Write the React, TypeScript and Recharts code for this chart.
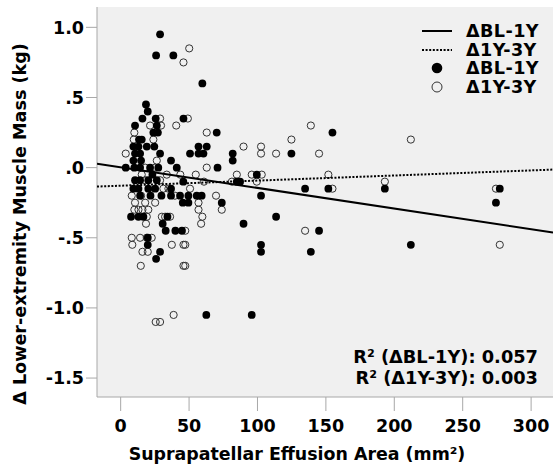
import React from 'react';
import { ScatterChart, Scatter, XAxis, YAxis, CartesianGrid } from 'recharts';

// ΔBL-1Y (filled)
const blX = [154.8, 124.8, 134.8, 151.8, 193.1, 277.1, 274.3, 145.0, 139.0, 212.1, 113.6, 102.6, 102.6, 102.6, 99.5, 89.8, 95.8, 84.9, 87.3, 81.9, 81.9, 73.9, 70.8, 70.2, 62.6, 59.7,
  56.9, 62.9, 50.7, 56.9, 60.5, 45.9, 49.5, 55.6, 59.2, 49.5, 45.4, 45.8, 43.4, 40.0, 44.8, 34.2, 30.7, 32.9, 41.0, 36.8, 36.8, 36.8, 29.8, 21.8, 14.2, 28.8, 25.9, 19.8, 19.8,
  28.8, 25.9, 38.5, 18.5, 19.8, 15.9, 25.6, 10.5, 26.4, 23.9, 27.2, 13.4, 15.4, 9.3, 13.0, 19.1, 24.6, 10.5, 14.2, 28.8, 9.3, 14.9, 3.7, 10.0, 14.2, 21.5, 27.5, 23.2,
  10.5, 14.2, 20.2, 26.4, 9.3, 13.0, 20.2, 25.2, 7.6, 13.0, 16.6];
const blY = [0.25, 0.1, -0.15, -0.15, -0.15, -0.15, -0.25, -0.45, -0.6, -0.55, -0.35, -0.2, -0.55, -0.6, -0.05, -0.4, -1.05, -0.1, -0.1, 0.1, 0.05, -0.25, 0, 0.25, -1.05, 0.6,
  0.15, 0.15, 0.1, 0.1, 0.1, 0.35, -0.2, -0.2, -0.2, -0.25, -0.25, -0.1, -0.2, -0.45, -0.45, -0.35, -0.4, -0.45, 0, 0.05, -0.15, -0.2, -0.2, -0.2, -0.2, -0.6, -0.65, -0.5, -0.55,
  0.95, 0.8, 0.8, 0.45, 0.4, 0.35, 0.35, 0.3, 0.3, 0.25, 0.25, 0.2, 0.2, 0.15, 0.15, 0.15, 0.15, 0.1, 0.1, 0.1, 0.05, 0.05, 0, 0, 0, 0, 0, -0.05,
  -0.09, -0.09, -0.09, -0.09, -0.15, -0.15, -0.15, -0.15, -0.35, -0.35, -0.35];

// Δ1Y-3Y (open)
const y3X = [139.0, 124.8, 212.1, 145.0, 151.8, 154.8, 193.1, 274.3, 134.8, 277.1, 113.6, 102.6, 102.6, 89.8, 103.1, 95.8, 84.9, 99.5, 81.3, 73.9, 69.7, 62.9, 62.9, 54.9, 60.9, 50.7,
  56.9, 56.9, 59.7, 58.8, 47.2, 47.2, 47.2, 50.1, 45.9, 49.1, 40.6, 28.8, 29.5, 21.5, 10.0, 9.6, 23.9, 3.7, 26.4, 17.9, 25.2, 33.7, 15.4, 43.6, 17.9, 28.8, 31.2, 34.9, 8.1, 14.9, 39.7,
  10.5, 17.9, 25.2, 10.0, 13.0, 15.9, 20.2, 19.1, 30.1, 36.1, 32.5, 18.5, 8.1, 14.2, 19.1, 22.7, 8.5, 37.4, 45.9, 15.9, 19.8, 14.7, 45.9, 25.6, 28.8, 38.7];
const y3Y = [0.3, 0.2, 0.2, 0.1, -0.05, -0.15, -0.1, -0.15, -0.45, -0.55, 0.1, 0.15, 0.1, 0.15, -0.05, -0.05, -0.05, -0.1, -0.1, -0.3, -0.2, 0, 0.25, -0.05, -0.1, -0.15,
  -0.25, -0.3, -0.35, -0.4, -0.45, -0.55, -0.7, 0.85, 0.75, 0.35, 0.3, 0.35, 0.3, 0.3, 0.25, 0.2, 0.2, 0.1, 0.05, 0, 0, -0.05, -0.05, -0.05, -0.09, -0.09, -0.15, -0.15, -0.2, -0.2, -0.2,
  -0.25, -0.25, -0.25, -0.3, -0.3, -0.3, -0.3, -0.35, -0.35, -0.35, -0.35, -0.4, -0.5, -0.5, -0.5, -0.5, -0.55, -0.55, -0.55, -0.6, -0.6, -0.7, -0.7, -1.1, -1.1, -1.05];

const xTicks = [0, 50, 100, 150, 200, 250, 300];
const yTicks = [-1.5, -1, -0.5, 0, 0.5, 1];
const xDomain = [-17.3, 316];
const yDomain = [-1.635, 1.145];

// fitted lines: intercept, slope
const blFit = [0.0025, -0.00147];
const y3Fit = [-0.1287, 0.000363];
const r2 = [
  { label: 'R² (ΔBL-1Y)', value: '0.057' },
  { label: 'R² (Δ1Y-3Y)', value: '0.003' },
];

const FONT = '"DejaVu Sans", Verdana, sans-serif';
const AXIS_GREY = '#a8a8a8';

const blData = blX.map((x, i) => ({ x, y: blY[i] }));
const y3Data = y3X.map((x, i) => ({ x, y: y3Y[i] }));
const fitLine = (f: number[]) => xDomain.map((x) => ({ x, y: f[0] + f[1] * x }));

const fmtY = (v: number) => v.toFixed(1).replace(/^(-?)0\./, '$1.');

const Dot = (props: any) => <circle cx={props.cx} cy={props.cy} r={3.9} fill="#000" />;
const OpenDot = (props: any) => (
  <circle cx={props.cx} cy={props.cy} r={3.6} fill="none" stroke="#333" strokeWidth={1} />
);
const NoDot = () => null;

const legendRows = [
  { name: 'ΔBL-1Y', kind: 'solid' },
  { name: 'Δ1Y-3Y', kind: 'dotted' },
  { name: 'ΔBL-1Y', kind: 'filled' },
  { name: 'Δ1Y-3Y', kind: 'open' },
];

const LegendIcon = ({ kind }: { kind: string }) => (
  <svg width={32} height={14}>
    {kind === 'solid' && <line x1={1} y1={7} x2={31} y2={7} stroke="#000" strokeWidth={2} />}
    {kind === 'dotted' && <line x1={1} y1={7} x2={31} y2={7} stroke="#000" strokeWidth={2} strokeDasharray="2 1.6" />}
    {kind === 'filled' && <circle cx={16} cy={7} r={5.3} fill="#000" />}
    {kind === 'open' && <circle cx={16} cy={7} r={5} fill="none" stroke="#333" strokeWidth={1} />}
  </svg>
);

export default function App() {
  return (
    <div style={{ position: 'absolute', left: 0, top: 0, width: 553, height: 464, background: '#fff', fontFamily: FONT }}>
      <ScatterChart width={553} height={464} margin={{ top: 7, right: 0, bottom: 0, left: 0 }}>
        <CartesianGrid horizontal={false} vertical={false} fill="#f0f0f0" />
        <XAxis
          xAxisId="top"
          orientation="top"
          type="number"
          dataKey="x"
          domain={xDomain}
          allowDataOverflow
          height={0}
          tick={false}
          tickLine={false}
          axisLine={{ stroke: AXIS_GREY }}
        />
        <XAxis
          type="number"
          dataKey="x"
          domain={xDomain}
          ticks={xTicks}
          allowDataOverflow
          height={67}
          tickSize={14}
          tickMargin={9}
          axisLine={{ stroke: AXIS_GREY }}
          tickLine={{ stroke: AXIS_GREY }}
          tick={{ fill: '#000', fontSize: 17.5, fontWeight: 'bold', fontFamily: FONT }}
          label={{
            value: 'Suprapatellar Effusion Area (mm²)',
            position: 'insideBottom',
            offset: 4,
            dx: -28,
            style: { fill: '#000', fontSize: 17.4, fontWeight: 'bold', fontFamily: FONT },
          }}
        />
        <YAxis
          type="number"
          dataKey="y"
          domain={yDomain}
          ticks={yTicks}
          allowDataOverflow
          width={97}
          tickSize={11}
          tickMargin={2}
          tickFormatter={fmtY}
          axisLine={{ stroke: AXIS_GREY }}
          tickLine={{ stroke: AXIS_GREY }}
          tick={{ fill: '#000', fontSize: 17.5, fontWeight: 'bold', fontFamily: FONT }}
          label={{
            value: 'Δ Lower-extremity Muscle Mass (kg)',
            angle: -90,
            position: 'insideLeft',
            offset: 20,
            dy: 22,
            style: { fill: '#000', fontSize: 17.6, fontWeight: 'bold', fontFamily: FONT, textAnchor: 'middle' },
          }}
        />
        <Scatter name="Δ1Y-3Y" data={y3Data} shape={OpenDot} isAnimationActive={false} />
        <Scatter name="ΔBL-1Y" data={blData} shape={Dot} isAnimationActive={false} />
        <Scatter
          data={fitLine(blFit)}
          line={{ stroke: '#000', strokeWidth: 2 }}
          shape={NoDot}
          isAnimationActive={false}
        />
        <Scatter
          data={fitLine(y3Fit)}
          line={{ stroke: '#000', strokeWidth: 2, strokeDasharray: '2 1.6' }}
          shape={NoDot}
          isAnimationActive={false}
        />
      </ScatterChart>

      <div style={{ position: 'absolute', left: 421, top: 22, fontSize: 17.6, fontWeight: 'bold', lineHeight: '18.6px' }}>
        {legendRows.map((r, i) => (
          <div key={i} style={{ display: 'flex', alignItems: 'center', height: 18.6 }}>
            <LegendIcon kind={r.kind} />
            <span style={{ marginLeft: 13, letterSpacing: 0.4 }}>{r.name}</span>
          </div>
        ))}
      </div>

      <div style={{ position: 'absolute', right: 15, top: 346, fontSize: 17.8, fontWeight: 'bold', lineHeight: '21px', textAlign: 'right' }}>
        {r2.map((r) => (
          <div key={r.label}>{r.label}: {r.value}</div>
        ))}
      </div>
    </div>
  );
}
